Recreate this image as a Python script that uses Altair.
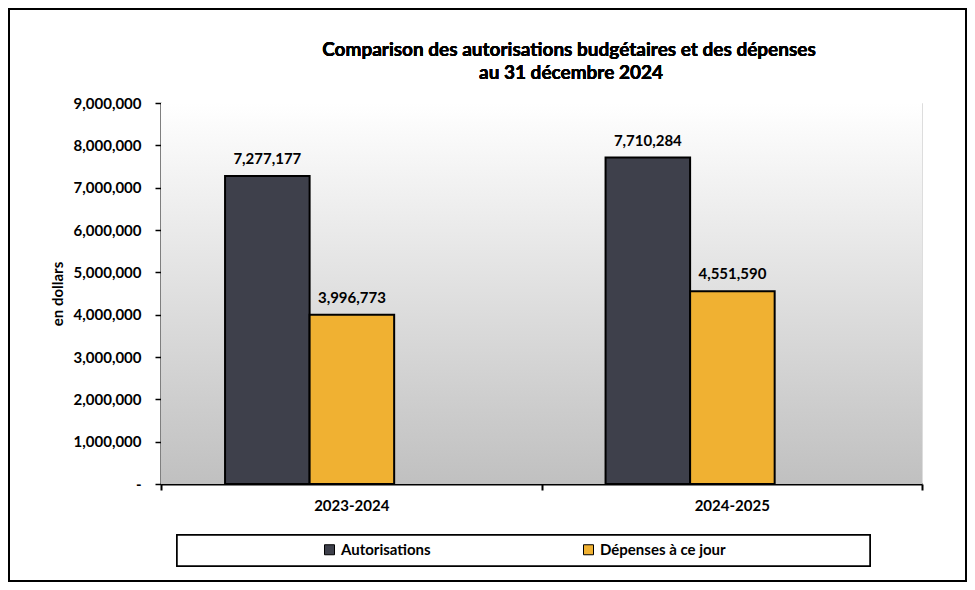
import altair as alt
import pandas as pd

years = ["2023-2024", "2024-2025"]
series = ["Autorisations", "Dépenses à ce jour"]
autorisations = [7277177, 7710284]
depenses = [3996773, 4551590]
colors = ["#3E404B", "#F0B132"]
y_ticks = [0, 1000000, 2000000, 3000000, 4000000, 5000000, 6000000, 7000000, 8000000, 9000000]
title_lines = ["Comparison des autorisations budgétaires et des dépenses",
               "au 31 décembre 2024"]

rows = []
for i, yr in enumerate(years):
    rows.append({"annee": yr, "serie": series[0], "valeur": autorisations[i]})
    rows.append({"annee": yr, "serie": series[1], "valeur": depenses[i]})
df = pd.DataFrame(rows)

FONT = "Lato"
FS = 15
W, H = 761, 381
PL, PT, PR, PB = 153, 95, 45, 98

x_enc = alt.X("annee:N", sort=years,
              scale=alt.Scale(paddingInner=0, paddingOuter=0),
              axis=alt.Axis(title=None, labelAngle=0, tickBand="extent", tickSize=6,
                            domainColor="black", domainWidth=2, tickColor="black",
                            tickWidth=2, labelPadding=8, labelFontSize=FS,
                            labelFontWeight="bold", labelColor="black", labelFont=FONT))
xoff = alt.XOffset("serie:N",
                   scale=alt.Scale(domain=series + ["_"], paddingOuter=0.75,
                                   paddingInner=0, align=0.505))
y_enc = alt.Y("valeur:Q",
              scale=alt.Scale(domain=[0, 9000000], nice=False),
              axis=alt.Axis(title="en dollars", values=y_ticks, grid=False,
                            labelExpr="datum.value == 0 ? '-' : format(datum.value, ',')",
                            tickSize=6, tickColor="black", tickWidth=1.5,
                            domainColor="black", domainWidth=2, labelPadding=14,
                            labelFontSize=FS, labelFontWeight="bold", labelColor="black",
                            labelFont=FONT, titleFont=FONT, titleFontSize=FS,
                            titleFontWeight="bold", titleColor="black", titlePadding=8))

base = alt.Chart(df)

bg = base.mark_rect(
    color=alt.Gradient(gradient="linear",
                       stops=[alt.GradientStop(color="#FFFFFF", offset=0),
                              alt.GradientStop(color="#C0C0C0", offset=1)],
                       x1=0, x2=0, y1=0, y2=1)
).encode(x=alt.value(0), x2=alt.value(W), y=alt.value(0), y2=alt.value(H))

legend_box = base.mark_rect(fill="white", stroke="black", strokeWidth=1.5).encode(
    x=alt.value(16), x2=alt.value(709), y=alt.value(432), y2=alt.value(463))

outer = base.mark_rect(fill=None, stroke="black", strokeWidth=2).encode(
    x=alt.value(-152), x2=alt.value(W + PR - 1), y=alt.value(-94), y2=alt.value(H + PB - 1))

title1 = base.mark_text(fontSize=19, font=FONT, fontWeight="bold", color="black",
                        baseline="middle", align="center").encode(
    x=alt.value(408), y=alt.value(-53), text=alt.value(title_lines[0]))
title2 = base.mark_text(fontSize=19, font=FONT, fontWeight="bold", color="black",
                        baseline="middle", align="center").encode(
    x=alt.value(410), y=alt.value(-30), text=alt.value(title_lines[1]))

bars = base.mark_bar(stroke="black", strokeWidth=2).encode(
    x=x_enc, xOffset=xoff, y=y_enc,
    color=alt.Color("serie:N", sort=series,
                    scale=alt.Scale(domain=series, range=colors),
                    legend=alt.Legend(title=None, orient="none", legendX=161, legendY=439,
                                      direction="horizontal", symbolType="square",
                                      symbolSize=100, symbolStrokeColor="black",
                                      symbolStrokeWidth=1, labelFontSize=FS,
                                      labelFontWeight="bold", labelFont=FONT,
                                      labelColor="black", columnPadding=150,
                                      labelOffset=4, labelLimit=300)))

labels = base.mark_text(baseline="bottom", dy=-9, fontSize=FS, fontWeight="bold",
                        font=FONT, color="black").encode(
    x=x_enc, xOffset=xoff, y=y_enc,
    text=alt.Text("valeur:Q", format=","))

chart = alt.layer(outer, legend_box, bg, title1, title2, bars, labels).properties(
    width=W, height=H,
    autosize=alt.AutoSizeParams(type="none"),
    padding={"left": PL, "top": PT, "right": PR, "bottom": PB},
).configure_view(stroke="#808080", strokeWidth=2).configure(background="white")

chart.save("out.html", embed_options={"renderer": "svg", "actions": False})
